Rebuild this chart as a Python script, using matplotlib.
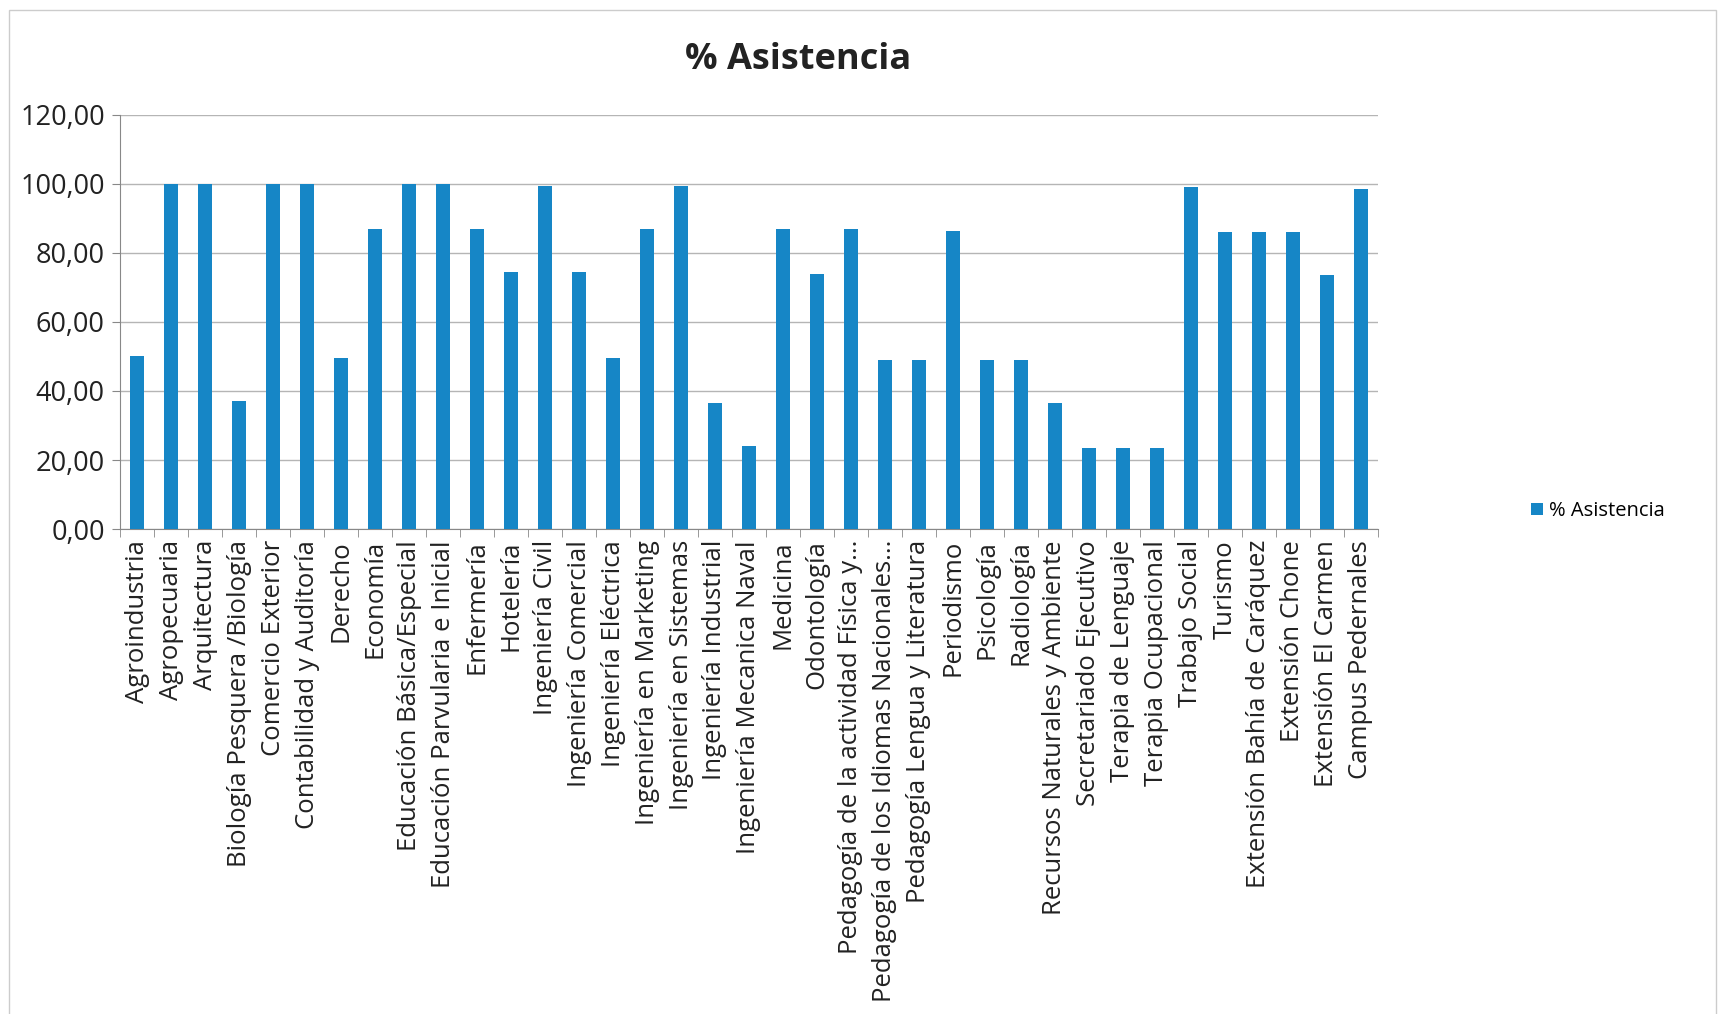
import matplotlib.pyplot as plt
from matplotlib.patches import Rectangle
from matplotlib.ticker import FixedLocator, FuncFormatter

plt.rcParams['font.family'] = ['Open Sans', 'DejaVu Sans']

# Data
carreras = [
    "Agroindustria", "Agropecuaria", "Arquitectura", "Biología Pesquera /Biología",
    "Comercio Exterior", "Contabilidad y Auditoría", "Derecho", "Economía",
    "Educación Básica/Especial", "Educación Parvularia e Inicial", "Enfermería",
    "Hotelería", "Ingeniería Civil", "Ingeniería Comercial", "Ingeniería Eléctrica",
    "Ingeniería en Marketing", "Ingeniería en Sistemas", "Ingeniería Industrial",
    "Ingeniería Mecanica Naval", "Medicina", "Odontología",
    "Pedagogía de la actividad Física y...", "Pedagogía de los Idiomas Nacionales...",
    "Pedagogía Lengua y Literatura", "Periodismo", "Psicología", "Radiología",
    "Recursos Naturales y Ambiente", "Secretariado Ejecutivo", "Terapia de Lenguaje",
    "Terapia Ocupacional", "Trabajo Social", "Turismo", "Extensión Bahía de Caráquez",
    "Extensión Chone", "Extensión El Carmen", "Campus Pedernales",
]
asistencia = [
    50, 100, 100, 37, 100, 100, 49.5, 87, 100, 100, 87,
    74.5, 99.5, 74.5, 49.5, 87, 99.5, 36.5, 24, 87, 74,
    87, 49, 49, 86.5, 49, 49, 36.5, 23.5, 23.5,
    23.5, 99, 86, 86, 86, 73.5, 98.5,
]
serie = "% Asistencia"
y_ticks = [0, 20, 40, 60, 80, 100, 120]

BLUE = "#1686c6"
GRID = "#b5b5b5"

fig = plt.figure(figsize=(17.25, 10.14), dpi=100)
ax = fig.add_axes([0.0696, 0.4783, 0.7292, 0.4083])

x = list(range(len(carreras)))
ax.bar(x, asistencia, width=0.4, color=BLUE, label=serie, zorder=3)

ax.set_xlim(-0.5, len(carreras) - 0.5)
ax.set_ylim(0, 120)
ax.yaxis.set_major_locator(FixedLocator(y_ticks))
ax.yaxis.set_major_formatter(FuncFormatter(lambda v, p: f"{v:.2f}".replace(".", ",")))
ax.grid(axis="y", color=GRID, linewidth=1, zorder=0)

ax.set_xticks(x)
ax.set_xticklabels(carreras, rotation=90, fontsize=18.5, color="#222222")
ax.set_xticks([i - 0.5 for i in range(len(carreras) + 1)], minor=True)
ax.tick_params(axis="x", which="major", length=0, pad=8)
ax.tick_params(axis="x", which="minor", length=6, color="#888888")
ax.tick_params(axis="y", labelsize=19.5, length=6, pad=5, color="#888888", labelcolor="#222222")

for s in ["top", "right"]:
    ax.spines[s].set_visible(False)
for s in ["left", "bottom"]:
    ax.spines[s].set_color("#888888")

fig.text(0.4626, 0.941, "% Asistencia", ha="center", va="center",
         fontsize=26, fontweight="bold", color="#222222")

fig.legend(loc="center left", bbox_to_anchor=(0.877, 1 - 511 / 1014),
           frameon=False, fontsize=14.5, handlelength=0.6, handleheight=0.6,
           handletextpad=0.3)

# chart area border
fig.patches.append(Rectangle((0.005, -0.01), 0.99, 1.0, transform=fig.transFigure,
                             fill=False, edgecolor="#cccccc", linewidth=1))

fig.savefig("out.png", dpi=100)
